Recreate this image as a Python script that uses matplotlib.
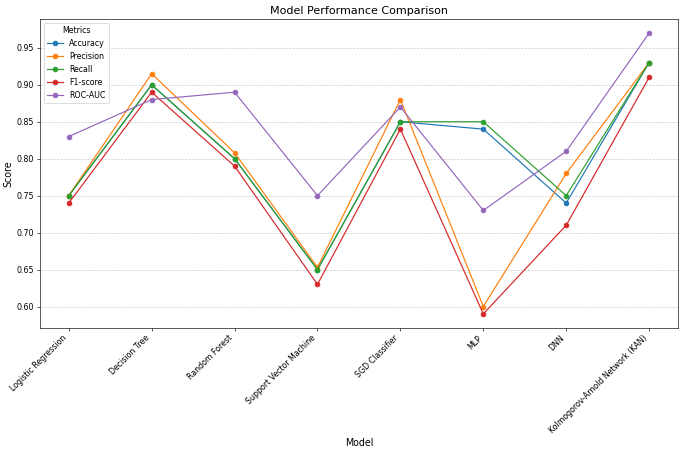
import numpy as np
import matplotlib
matplotlib.use("Agg")
import matplotlib.pyplot as plt

models = ["Logistic Regression", "Decision Tree", "Random Forest", "Support Vector Machine",
          "SGD Classifier", "MLP", "DNN", "Kolmogorov-Arnold Network (KAN)"]

accuracy = [0.75, 0.90, 0.80, 0.65, 0.85, 0.84, 0.74, 0.93]
precision = [0.75, 0.915, 0.808, 0.653, 0.88, 0.60, 0.78, 0.93]
recall = [0.75, 0.90, 0.80, 0.65, 0.85, 0.85, 0.75, 0.93]
f1 = [0.74, 0.89, 0.79, 0.63, 0.84, 0.59, 0.71, 0.91]
roc_auc = [0.83, 0.88, 0.89, 0.75, 0.87, 0.73, 0.81, 0.97]

metrics = {"Accuracy": accuracy, "Precision": precision, "Recall": recall,
           "F1-score": f1, "ROC-AUC": roc_auc}

fig, ax = plt.subplots(figsize=(12, 7.936), dpi=685 / 12)

for name, vals in metrics.items():
    ax.plot(models, vals, marker="o", label=name)

ax.set_title("Model Performance Comparison", fontsize=14)
ax.set_xlabel("Model", fontsize=12)
ax.set_ylabel("Score", fontsize=12)
ax.grid(axis="y", linestyle="--", alpha=0.7)
plt.xticks(rotation=45, ha="right")
ax.legend(title="Metrics", loc="upper left")

plt.subplots_adjust(left=0.058, right=0.99, top=0.958, bottom=0.276)
plt.savefig("out.png")
